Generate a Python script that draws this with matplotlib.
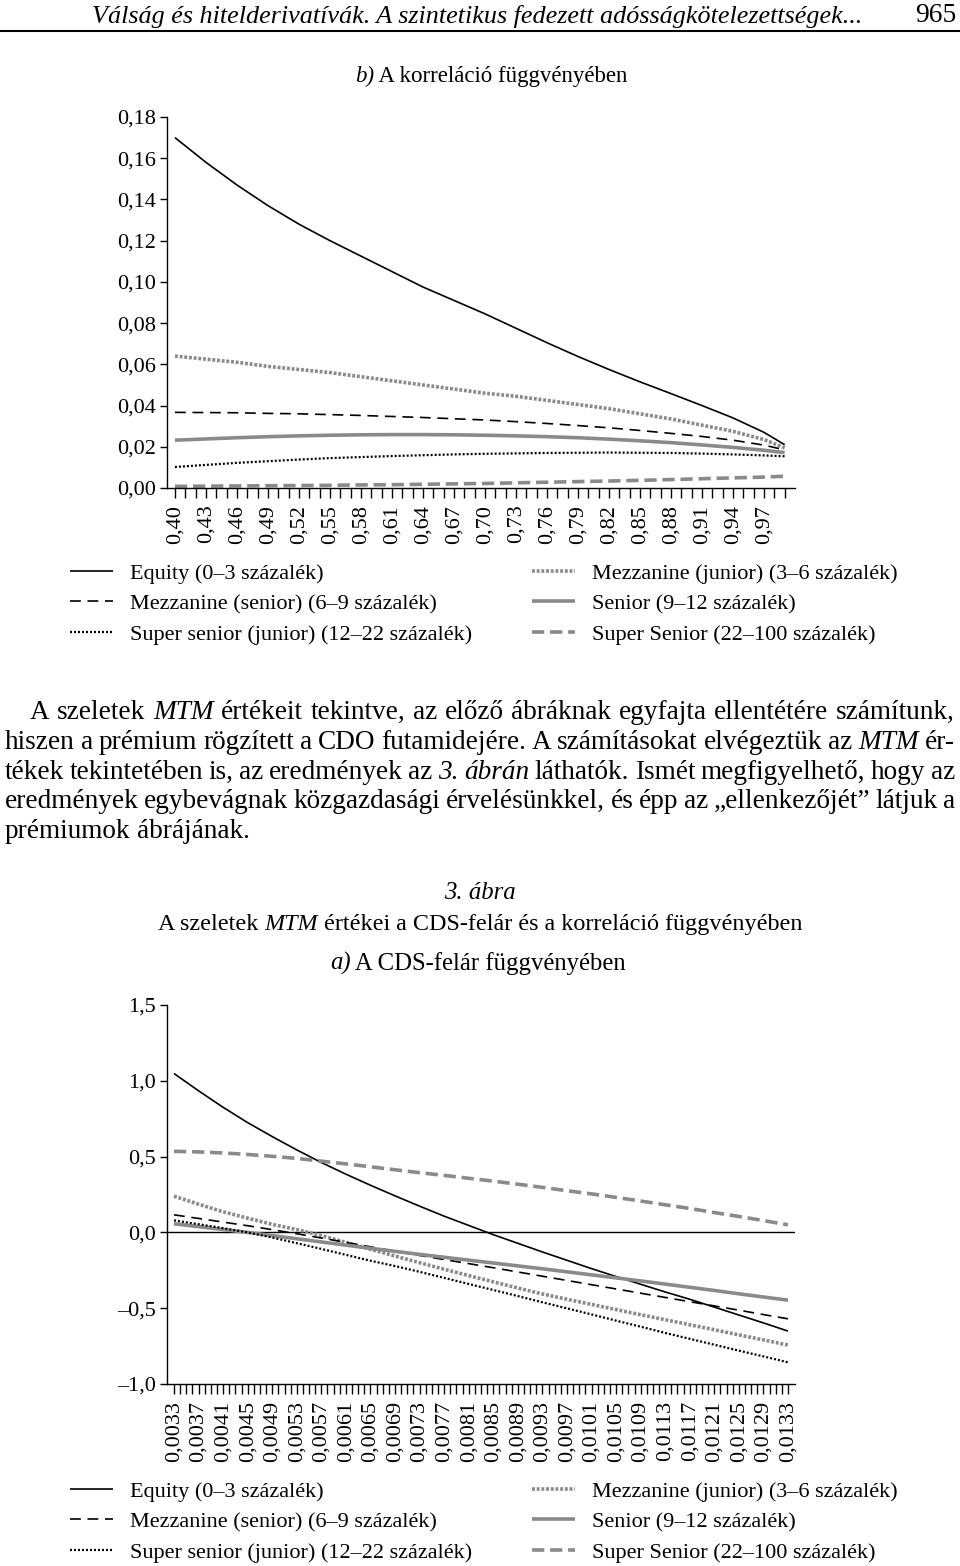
import numpy as np
import matplotlib
matplotlib.use('Agg')
import matplotlib.pyplot as plt
from matplotlib.lines import Line2D

plt.rcParams['font.family'] = ['Liberation Serif', 'DejaVu Serif']
plt.rcParams['font.size'] = 16
plt.rcParams['axes.linewidth'] = 1.0

# ---------------- adatok: b) korreláció függvényében ----------------
rho = [0.40, 0.43, 0.46, 0.49, 0.52, 0.55, 0.58, 0.61, 0.64, 0.67, 0.70,
       0.73, 0.76, 0.79, 0.82, 0.85, 0.88, 0.91, 0.94, 0.97, 0.99]
top_equity = [0.170, 0.158, 0.147, 0.137, 0.128, 0.120, 0.1125, 0.105, 0.0975, 0.091, 0.0845,
              0.0775, 0.0705, 0.0638, 0.0575, 0.0515, 0.0458, 0.040, 0.034, 0.027, 0.021]
top_mezz_jun = [0.064, 0.0625, 0.061, 0.059, 0.0575, 0.056, 0.054, 0.052, 0.050, 0.048, 0.046,
                0.0445, 0.0425, 0.0405, 0.0385, 0.036, 0.0335, 0.0305, 0.0275, 0.0235, 0.0195]
top_mezz_sen = [0.0367, 0.0366, 0.0365, 0.0362, 0.036, 0.0356, 0.0352, 0.0347, 0.0342, 0.0336, 0.033,
                0.0322, 0.0313, 0.0303, 0.0292, 0.0279, 0.0265, 0.025, 0.0232, 0.0208, 0.0185]
top_senior = [0.0232, 0.0238, 0.0244, 0.0249, 0.0253, 0.0256, 0.0258, 0.0259, 0.0259, 0.0258, 0.0256,
              0.0253, 0.0249, 0.0244, 0.0237, 0.0229, 0.022, 0.0209, 0.0197, 0.0183, 0.0172]
top_ss_jun = [0.0102, 0.0112, 0.0122, 0.013, 0.0138, 0.0145, 0.015, 0.0155, 0.0159, 0.0163, 0.0166,
              0.0168, 0.017, 0.0171, 0.0172, 0.0171, 0.017, 0.0167, 0.0163, 0.0158, 0.0154]
top_super_sen = [0.0008, 0.0009, 0.001, 0.0011, 0.0012, 0.0013, 0.0015, 0.0016, 0.0018, 0.002, 0.0022,
                 0.0025, 0.0028, 0.0031, 0.0034, 0.0037, 0.0041, 0.0045, 0.0049, 0.0053, 0.0057]
top_yticks = [0.00, 0.02, 0.04, 0.06, 0.08, 0.10, 0.12, 0.14, 0.16, 0.18]

# ---------------- adatok: a) CDS-felár függvényében ----------------
cds = [0.0033, 0.0037, 0.0041, 0.0045, 0.0049, 0.0053, 0.0057, 0.0061, 0.0065, 0.0069, 0.0073,
       0.0077, 0.0081, 0.0085, 0.0089, 0.0093, 0.0097, 0.0101, 0.0105, 0.0109, 0.0113, 0.0117,
       0.0121, 0.0125, 0.0129, 0.0133]
bot_equity = [1.048, 0.934, 0.825, 0.724, 0.632, 0.544, 0.461, 0.384, 0.311, 0.241, 0.173,
              0.107, 0.046, -0.015, -0.072, -0.129, -0.184, -0.239, -0.291, -0.342, -0.393,
              -0.441, -0.493, -0.545, -0.597, -0.651]
bot_mezz_jun = [0.239, 0.186, 0.136, 0.094, 0.053, 0.019, -0.021, -0.066, -0.111, -0.156, -0.200,
                -0.243, -0.285, -0.326, -0.367, -0.406, -0.441, -0.475, -0.509, -0.543, -0.576,
                -0.609, -0.642, -0.676, -0.709, -0.743]
bot_mezz_sen = [0.116, 0.092, 0.068, 0.044, 0.018, -0.009, -0.037, -0.066, -0.095, -0.124, -0.152,
                -0.179, -0.206, -0.233, -0.261, -0.289, -0.317, -0.345, -0.373, -0.401, -0.429,
                -0.457, -0.485, -0.513, -0.542, -0.570]
bot_senior = [0.057, 0.038, 0.019, 0.0, -0.021, -0.042, -0.063, -0.084, -0.105, -0.125, -0.145,
              -0.164, -0.183, -0.202, -0.221, -0.240, -0.260, -0.280, -0.300, -0.320, -0.341,
              -0.362, -0.383, -0.405, -0.426, -0.447]
bot_ss_jun = [0.079, 0.054, 0.028, 0.0, -0.034, -0.071, -0.109, -0.148, -0.187, -0.222, -0.260,
              -0.300, -0.340, -0.380, -0.420, -0.461, -0.501, -0.541, -0.582, -0.622, -0.663,
              -0.702, -0.741, -0.780, -0.818, -0.857]
bot_super_sen = [0.535, 0.531, 0.524, 0.514, 0.502, 0.488, 0.470, 0.452, 0.433, 0.413, 0.394,
                 0.376, 0.357, 0.338, 0.318, 0.297, 0.275, 0.254, 0.231, 0.207, 0.182,
                 0.158, 0.131, 0.105, 0.078, 0.050]
bot_yticks = [-1.0, -0.5, 0.0, 0.5, 1.0, 1.5]

names = ['Equity (0–3 százalék)', 'Mezzanine (junior) (3–6 százalék)',
         'Mezzanine (senior) (6–9 százalék)', 'Senior (9–12 százalék)',
         'Super senior (junior) (12–22 százalék)', 'Super Senior (22–100 százalék)']

GREY = '#8a8a8a'
styles = [
    dict(color='black', lw=1.2),
    dict(color=GREY, lw=2.6, dashes=(0.8, 0.5)),
    dict(color='black', lw=1.2, dashes=(6.5, 4)),
    dict(color=GREY, lw=2.6),
    dict(color='black', lw=1.6, dashes=(0.9, 0.9)),
    dict(color=GREY, lw=2.6, dashes=(3.4, 1.6)),
]

W, H = 960, 1566
fig = plt.figure(figsize=(W / 100, H / 100), dpi=100)
renderer = fig.canvas.get_renderer()


def fx(x):
    return x / W


def fy(y):
    return 1 - y / H


def comma(v, nd):
    return f"{v:.{nd}f}".replace('.', ',')


def setup_axis(ax):
    for s in ['top', 'right']:
        ax.spines[s].set_visible(False)
    ax.tick_params(axis='y', direction='out', length=5, width=1, labelsize=16, pad=3)
    ax.tick_params(axis='x', which='both', direction='out', length=7, width=1,
                   labelsize=16, labelrotation=90, pad=5)


def centered_runs(runs, xc, yb, size):
    # egymás után írt, eltérő stílusú szövegdarabok középre igazítva
    ts = [fig.text(0, fy(yb), s, style=st, ha='left', va='baseline', fontsize=size) for s, st in runs]
    ws = [t.get_window_extent(renderer).width for t in ts]
    x = xc - sum(ws) / 2
    for t, w in zip(ts, ws):
        t.set_x(fx(x))
        x += w


# fejléc
fig.text(fx(92), fy(16), 'Válság és hitelderivatívák. A szintetikus fedezett adósságkötelezettségek...',
         style='italic', fontsize=18.8, ha='left', va='center')
fig.text(fx(956), fy(16), '965', fontsize=19.8, ha='right', va='center')
fig.add_artist(Line2D([0, 1], [fy(31), fy(31)], color='black', lw=1.5, transform=fig.transFigure))

# ---------------- felső ábra ----------------
centered_runs([('b)', 'italic'), (' A korreláció függvényében', 'normal')], 491, 82, 16.5)

ax1 = fig.add_axes([fx(167), fy(488), (795 - 167) / W, (488 - 117) / H])
top_series = [top_equity, top_mezz_jun, top_mezz_sen, top_senior, top_ss_jun, top_super_sen]
top_lines = []
for vals, st, nm in zip(top_series, styles, names):
    ln, = ax1.plot(rho, vals, label=nm, solid_capstyle='butt', dash_capstyle='butt', **st)
    top_lines.append(ln)
ax1.set_xlim(0.3923, 1.0)
ax1.set_ylim(0, 0.18)
setup_axis(ax1)
ax1.set_yticks(top_yticks)
ax1.set_yticklabels([comma(v, 2) for v in top_yticks])
ax1.set_xticks(rho[:-1])
ax1.set_xticklabels([comma(v, 2) for v in rho[:-1]])
ax1.set_xticks(np.round(np.arange(0.40, 0.995, 0.01), 2), minor=True)

# ---------------- alsó ábra ----------------
ax2 = fig.add_axes([fx(167), fy(1384), (795 - 167) / W, (1384 - 1005) / H])
bot_series = [bot_equity, bot_mezz_jun, bot_mezz_sen, bot_senior, bot_ss_jun, bot_super_sen]
bot_lines = []
for vals, st, nm in zip(bot_series, styles, names):
    ln, = ax2.plot(cds, vals, label=nm, solid_capstyle='butt', dash_capstyle='butt', **st)
    bot_lines.append(ln)
ax2.axhline(0, color='black', lw=1.0, zorder=1)
ax2.set_xlim(0.003186, 0.013414)
ax2.set_ylim(-1.0, 1.5)
setup_axis(ax2)
ax2.set_yticks(bot_yticks)
ax2.set_yticklabels([comma(v, 1).replace('-', '–') for v in bot_yticks])
ax2.set_xticks(cds)
ax2.set_xticklabels([comma(v, 4) for v in cds])
ax2.set_xticks(np.round(np.arange(0.0033, 0.01331, 0.0001), 4), minor=True)


# jelmagyarázat: bal oszlop / jobb oszlop
def legends(lines, y_top):
    for idx, x0 in [([0, 2, 4], 70), ([1, 3, 5], 532)]:
        fig.legend(handles=[lines[i] for i in idx], loc='upper left',
                   bbox_to_anchor=(fx(x0), fy(y_top)), frameon=False, borderpad=0,
                   borderaxespad=0, handlelength=1.95, handletextpad=0.75,
                   labelspacing=0.45, fontsize=16)


legends(top_lines, 563)
legends(bot_lines, 1481)

# ---------------- szöveg (sorkizárt bekezdés) ----------------
par_lines = [
    "A szeletek *MTM* értékeit tekintve, az előző ábráknak egyfajta ellentétére számítunk,",
    "hiszen a prémium rögzített a CDO futamidejére. A számításokat elvégeztük az *MTM* ér-",
    "tékek tekintetében is, az eredmények az *3. ábrán* láthatók. Ismét megfigyelhető, hogy az",
    "eredmények egybevágnak közgazdasági érvelésünkkel, és épp az „ellenkezőjét” látjuk a",
    "prémiumok ábrájának.",
]
par_base = [719, 749, 779, 808, 838]


def split_words(line):
    words, ital = [], False
    for tok in line.split(' '):
        if tok.startswith('*'):
            ital = True
            tok = tok[1:]
        end = tok.endswith('*')
        if end:
            tok = tok[:-1]
        words.append((tok, ital))
        if end:
            ital = False
    return words


# betűméret: az első sor természetes szélessége töltse ki a sort
s0 = 16.0
probe = [fig.text(0, 0, w, style='italic' if it else 'normal', fontsize=s0)
         for w, it in split_words(par_lines[0])]
nat = sum(t.get_window_extent(renderer).width for t in probe) + (len(probe) - 1) * 0.25 * s0 * 100 / 72
for t in probe:
    t.remove()
psize = s0 * (955 - 30) / nat * 0.99

for i, (line, yb) in enumerate(zip(par_lines, par_base)):
    words = split_words(line)
    texts = [fig.text(0, fy(yb), w, style='italic' if it else 'normal', fontsize=psize,
                      ha='left', va='baseline') for w, it in words]
    widths = [t.get_window_extent(renderer).width for t in texts]
    x0 = 30 if i == 0 else 5
    x1 = 955
    if i < len(par_lines) - 1:
        gap = (x1 - x0 - sum(widths)) / (len(words) - 1)
    else:
        gap = 0.25 * psize * 100 / 72
    x = x0
    for t, w in zip(texts, widths):
        t.set_x(fx(x))
        x += w + gap

# ábra címe
fig.text(fx(480), fy(893), '3. ábra', style='italic', ha='center', va='center', fontsize=17.8)
centered_runs([('A szeletek ', 'normal'), ('MTM', 'italic'),
               (' értékei a CDS-felár és a korreláció függvényében', 'normal')], 480, 930, 17.4)
centered_runs([('a)', 'italic'), (' A CDS-felár függvényében', 'normal')], 478, 970, 17.8)

fig.savefig('out.png', dpi=100)
